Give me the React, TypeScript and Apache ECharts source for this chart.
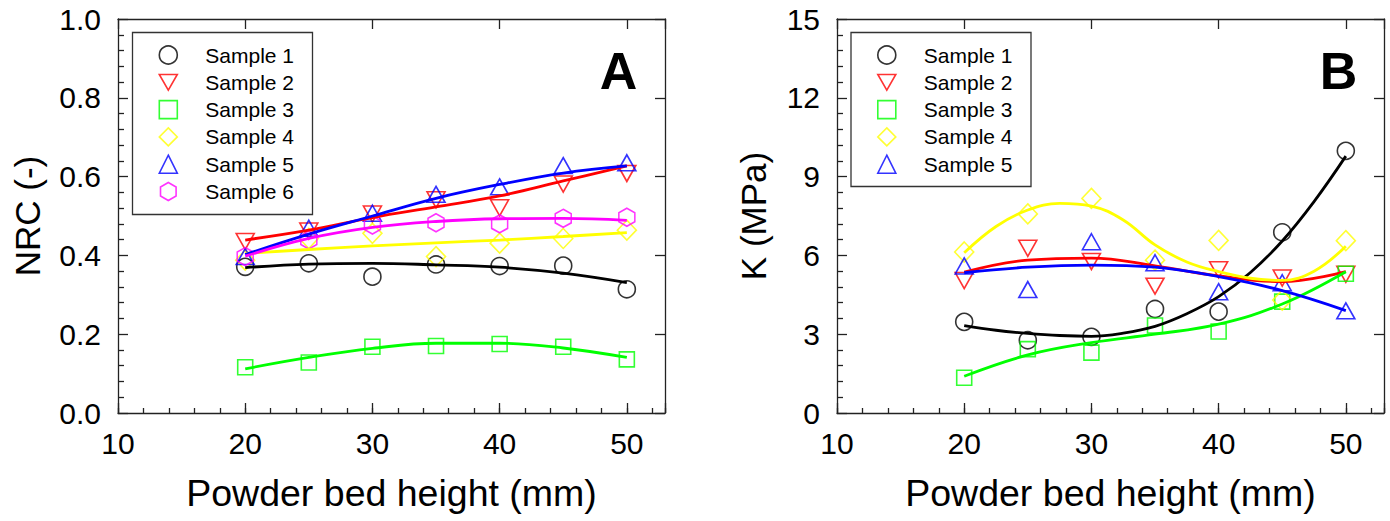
import React, { useEffect, useRef } from "react";
import * as echarts from "echarts";

// Powder bed heights (mm) at which the samples were measured
const heights = [20, 25, 30, 35, 40, 45, 50];
// Finer grid used for the cubic fits of panel B
const fineHeights = [20, 22.5, 25, 27.5, 30, 32.5, 35, 37.5, 40, 42.5, 45, 47.5, 50];

const sampleNames = ["Sample 1", "Sample 2", "Sample 3", "Sample 4", "Sample 5", "Sample 6"];
const sampleColors = ["#000000", "#ff0000", "#00ff00", "#ffff00", "#0000ff", "#ff00ff"];

// Panel A — noise reduction coefficient, measured
const nrcSample1 = [0.371, 0.38, 0.346, 0.377, 0.373, 0.374, 0.314];
const nrcSample2 = [0.435, 0.462, 0.505, 0.541, 0.521, 0.581, 0.608];
const nrcSample3 = [0.116, 0.128, 0.168, 0.17, 0.175, 0.168, 0.136];
const nrcSample4 = [0.388, 0.443, 0.456, 0.397, 0.431, 0.443, 0.464];
const nrcSample5 = [0.397, 0.469, 0.507, 0.555, 0.574, 0.628, 0.635];
const nrcSample6 = [0.397, 0.439, 0.477, 0.483, 0.48, 0.494, 0.497];

// Panel A — fitted trend lines
const nrcFit1 = [0.369, 0.378, 0.38, 0.376, 0.37, 0.355, 0.331];
const nrcFit2 = [0.439, 0.464, 0.496, 0.523, 0.551, 0.589, 0.627];
const nrcFit3 = [0.112, 0.141, 0.164, 0.177, 0.177, 0.165, 0.141];
const nrcFit4 = [0.405, 0.415, 0.424, 0.432, 0.439, 0.448, 0.458];
const nrcFit5 = [0.402, 0.454, 0.5, 0.545, 0.58, 0.609, 0.627];
const nrcFit6 = [0.398, 0.443, 0.471, 0.486, 0.493, 0.494, 0.489];

// Panel B — bulk modulus K (MPa), measured
const kSample1 = [3.47, 2.77, 2.9, 3.96, 3.86, 6.88, 9.98];
const kSample2 = [5.04, 6.27, 5.77, 4.83, 5.45, 5.14, 5.28];
const kSample3 = [1.34, 2.43, 2.3, 3.33, 3.1, 4.24, 5.3];
const kSample4 = [6.13, 7.58, 8.17, 5.82, 6.57, 4.3, 6.56];
const kSample5 = [5.6, 4.7, 6.52, 5.72, 4.62, 4.96, 3.89];

// Panel B — fitted trend lines
const kFit1 = [3.33, 3.15, 3.03, 2.95, 2.92, 3.04, 3.3, 3.78, 4.43, 5.35, 6.55, 8.05, 9.78];
const kFit2 = [5.36, 5.82, 5.9, 5.6, 5.22, 5.0, 5.38];
const kFit3 = [1.4, 2.21, 2.68, 3.0, 3.38, 4.15, 5.38];
const kFit4 = [6.1, 7.1, 7.73, 7.98, 7.88, 7.35, 6.4, 5.75, 5.38, 5.13, 5.05, 5.4, 6.35];
const kFit5 = [5.34, 5.55, 5.63, 5.55, 5.19, 4.66, 3.9];

const nrcSamples = [nrcSample1, nrcSample2, nrcSample3, nrcSample4, nrcSample5, nrcSample6];
const nrcFits = [nrcFit1, nrcFit2, nrcFit3, nrcFit4, nrcFit5, nrcFit6];
const kSamples = [kSample1, kSample2, kSample3, kSample4, kSample5];
const kFits = [kFit1, kFit2, kFit3, kFit4, kFit5];
const kFitHeights = [fineHeights, heights, heights, fineHeights, heights];

const FONT = '"Liberation Sans", Arial, sans-serif';
const FRAME = "#222222";

// Open marker shapes, one per sample
const markerShapes = [
  "circle",
  "path://M0,0 L20,0 L10,17.32 Z",
  "rect",
  "diamond",
  "triangle",
  "path://M8.66,0 L17.32,5 L17.32,15 L8.66,20 L0,15 L0,5 Z",
];
const markerSizes: (number | number[])[] = [17, [18, 16], 15, [19, 20], [18, 16], [16, 18]];

const pairs = (xs: number[], ys: number[]) => xs.map((x, i) => [x, ys[i]]);

function axesFor(gridIndex: number, yMax: number, yInterval: number, yName: string, yNameGap: number, yDigits: number) {
  const line = { color: FRAME, width: 1.3 };
  const xMain = {
    gridIndex,
    type: "value",
    min: 10,
    max: 53,
    interval: 10,
    position: "bottom",
    axisLine: { show: true, onZero: false, lineStyle: line },
    axisTick: { show: true, inside: true, length: 10, lineStyle: line },
    axisLabel: {
      fontSize: 30,
      fontFamily: FONT,
      color: "#000",
      margin: 15,
      formatter: (v: number) => (v % 10 === 0 ? String(v) : ""),
    },
    splitLine: { show: false },
    name: "Powder bed height (mm)",
    nameLocation: "middle",
    nameGap: 61,
    nameTextStyle: { fontSize: 37.5, fontFamily: FONT, color: "#000" },
  };
  const xMinor = {
    gridIndex,
    type: "value",
    min: 10,
    max: 53,
    interval: 2,
    position: "bottom",
    axisLine: { show: false },
    axisTick: { show: true, inside: true, length: 5, lineStyle: line },
    axisLabel: { show: false },
    splitLine: { show: false },
  };
  const xTop = {
    gridIndex,
    type: "value",
    min: 10,
    max: 53,
    interval: 10,
    position: "top",
    axisLine: { show: true, onZero: false, lineStyle: line },
    axisTick: { show: true, inside: true, length: 10, lineStyle: line },
    axisLabel: { show: false },
    splitLine: { show: false },
  };
  const yLeft = {
    gridIndex,
    type: "value",
    min: 0,
    max: yMax,
    interval: yInterval,
    position: "left",
    axisLine: { show: true, onZero: false, lineStyle: line },
    axisTick: { show: true, inside: true, length: 10, lineStyle: line },
    minorTick: { show: true, splitNumber: 5, length: 6, lineStyle: line },
    axisLabel: {
      fontSize: 30,
      fontFamily: FONT,
      color: "#000",
      margin: 17,
      formatter: (v: number) => v.toFixed(yDigits),
    },
    splitLine: { show: false },
    minorSplitLine: { show: false },
    name: yName,
    nameLocation: "middle",
    nameGap: yNameGap,
    nameTextStyle: { fontSize: 35, fontFamily: FONT, color: "#000" },
  };
  const yRight = {
    gridIndex,
    type: "value",
    min: 0,
    max: yMax,
    interval: yInterval,
    position: "right",
    axisLine: { show: true, onZero: false, lineStyle: line },
    axisTick: { show: true, inside: true, length: 10, lineStyle: line },
    axisLabel: { show: false },
    splitLine: { show: false },
  };
  return { x: [xMain, xMinor, xTop], y: [yLeft, yRight] };
}

function legendFor(boxLeft: number, count: number) {
  return {
    orient: "vertical",
    left: boxLeft + 26,
    top: 44.5,
    padding: 0,
    itemWidth: 18,
    itemHeight: 18,
    itemGap: 6.3,
    selectedMode: false,
    textStyle: { fontSize: 21, fontFamily: FONT, color: "#000", lineHeight: 21, padding: [0, 0, 0, 23] },
    data: sampleNames.slice(0, count).map((name, i) => ({
      name,
      icon: markerShapes[i],
      itemStyle: { color: "rgba(0,0,0,0)", borderColor: sampleColors[i], borderWidth: 1.6 },
    })),
  };
}

function panelSeries(samples: number[][], fits: number[][], fitXs: number[][], xAxisIndex: number, yAxisIndex: number) {
  const out: any[] = [];
  samples.forEach((vals, i) => {
    out.push({
      name: sampleNames[i],
      type: "scatter",
      xAxisIndex,
      yAxisIndex,
      data: pairs(heights, vals),
      symbol: markerShapes[i],
      symbolSize: markerSizes[i],
      itemStyle: { color: "rgba(0,0,0,0)", borderColor: sampleColors[i], borderWidth: 1.6 },
      z: 2,
      silent: true,
    });
  });
  fits.forEach((vals, i) => {
    out.push({
      name: sampleNames[i] + " fit",
      type: "line",
      xAxisIndex,
      yAxisIndex,
      data: pairs(fitXs[i], vals),
      smooth: 0.4,
      showSymbol: false,
      symbol: "none",
      lineStyle: { color: sampleColors[i], width: 2.8 },
      z: 3,
      silent: true,
    });
  });
  return out;
}

export default function App() {
  const ref = useRef<HTMLDivElement>(null);

  useEffect(() => {
    if (!ref.current) return;
    const chart = echarts.init(ref.current, undefined, { renderer: "svg" });

    const a = axesFor(0, 1, 0.2, "NRC (-)", 73, 1);
    const b = axesFor(1, 15, 3, "K (MPa)", 66, 0);

    chart.setOption({
      animation: false,
      backgroundColor: "#ffffff",
      grid: [
        { left: 118, top: 19, width: 547, height: 394 },
        { left: 837, top: 19, width: 547, height: 394 },
      ],
      xAxis: [...a.x, ...b.x],
      yAxis: [...a.y, ...b.y],
      legend: [legendFor(132.5, 6), legendFor(851, 5)],
      graphic: [
        {
          type: "rect",
          z: 1,
          shape: { x: 132.5, y: 32.5, width: 180, height: 182 },
          style: { fill: "rgba(0,0,0,0)", stroke: "#333", lineWidth: 1.3 },
        },
        {
          type: "rect",
          z: 1,
          shape: { x: 851, y: 32.5, width: 180, height: 154 },
          style: { fill: "rgba(0,0,0,0)", stroke: "#333", lineWidth: 1.3 },
        },
        {
          type: "text",
          x: 618.5,
          y: 71,
          style: { text: "A", font: `bold 52px ${FONT}`, fill: "#000", align: "center", verticalAlign: "middle" },
        },
        {
          type: "text",
          x: 1338.5,
          y: 71,
          style: { text: "B", font: `bold 52px ${FONT}`, fill: "#000", align: "center", verticalAlign: "middle" },
        },
      ],
      series: [
        ...panelSeries(nrcSamples, nrcFits, nrcFits.map(() => heights), 0, 0),
        ...panelSeries(kSamples, kFits, kFitHeights, 3, 2),
      ],
    });

    return () => chart.dispose();
  }, []);

  return (
    <div
      ref={ref}
      style={{ position: "absolute", left: 0, top: 0, width: 1390, height: 521, background: "#fff" }}
    />
  );
}
